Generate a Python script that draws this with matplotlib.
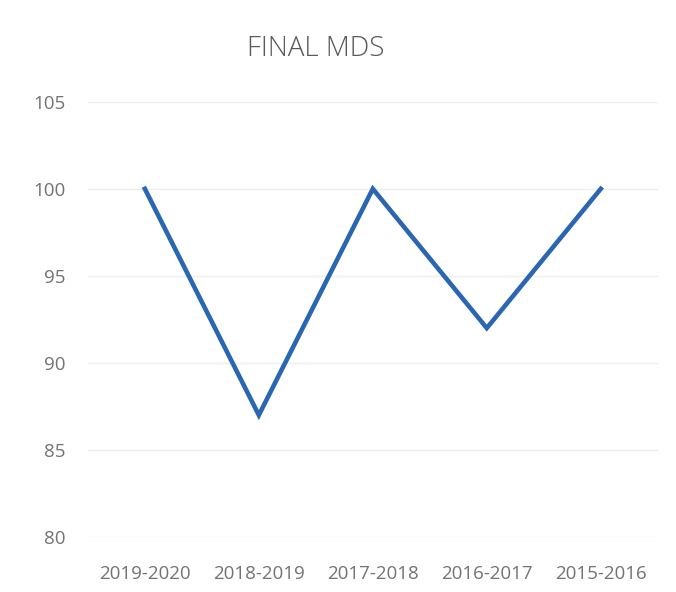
import matplotlib
matplotlib.use("Agg")
import matplotlib.pyplot as plt

# data
years = ["2019-2020", "2018-2019", "2017-2018", "2016-2017", "2015-2016"]
mds = [100, 87, 100, 92, 100]
yticks = [80, 85, 90, 95, 100, 105]

plt.rcParams['font.family'] = ['Open Sans', 'DejaVu Sans']

fig = plt.figure(figsize=(6.76, 5.92), dpi=100)
# plot area roughly x 88..658 px, y 102..537 px
ax = fig.add_axes([0.130, 0.093, 0.843, 0.735])

ax.plot(range(len(years)), mds, color="#2B66B2", linewidth=3.3, solid_joinstyle="miter")

ax.set_ylim(80, 105)
ax.set_yticks(yticks)
ax.set_xlim(-0.5, len(years) - 0.5)
ax.set_xticks(range(len(years)))
ax.set_xticklabels(years)
ax.grid(axis="y", color="#EEEEEE", linewidth=1)
ax.set_axisbelow(True)
for s in ax.spines.values():
    s.set_visible(False)
ax.tick_params(length=0, colors="#737373", labelsize=13.5)
ax.tick_params(axis="y", pad=16)
ax.tick_params(axis="x", pad=20)

fig.text(0.4675, 0.917, "FINAL MDS", ha="center", va="center", fontsize=20,
         color="#595959", fontweight="light")

fig.savefig("out.png", dpi=100)
